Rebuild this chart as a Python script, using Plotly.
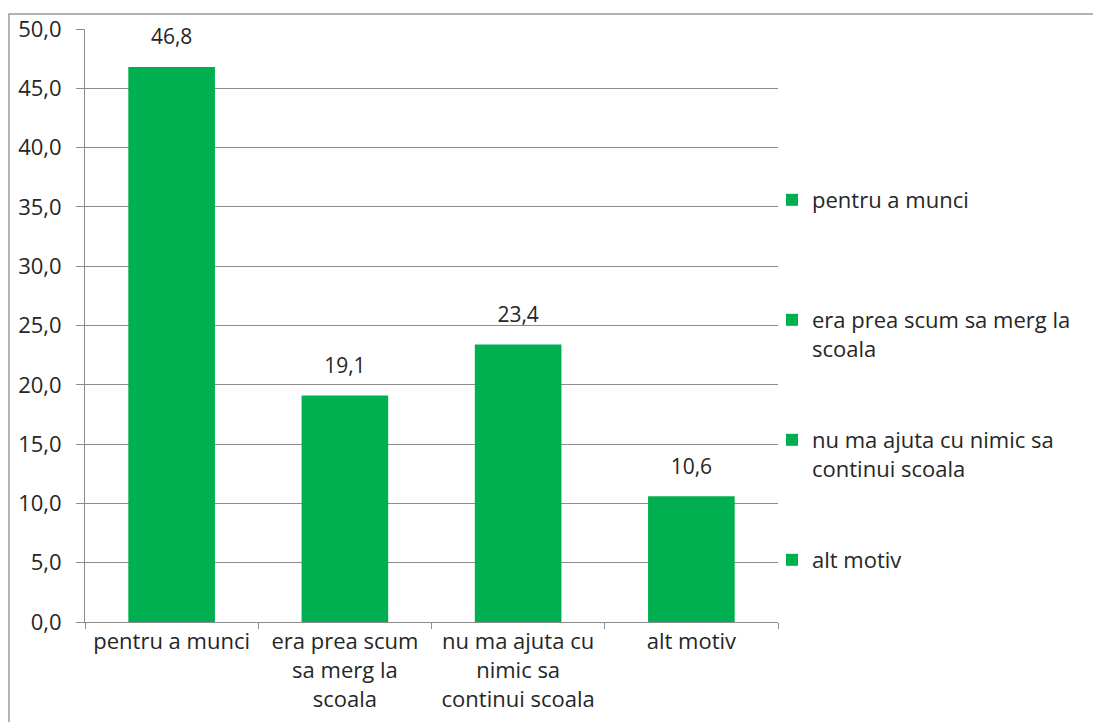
import plotly.graph_objects as go

categories = ["pentru a munci", "era prea scum sa merg la scoala",
              "nu ma ajuta cu nimic sa continui scoala", "alt motiv"]
tick_labels = ["pentru a munci", "era prea scum<br>sa merg la<br>scoala",
               "nu ma ajuta cu<br>nimic sa<br>continui scoala", "alt motiv"]
legend_names = ["pentru a munci", "era prea scum sa merg la<br>scoala",
                "nu ma ajuta cu nimic sa<br>continui scoala", "alt motiv"]
values = [46.8, 19.1, 23.4, 10.6]
y_ticks = [0, 5, 10, 15, 20, 25, 30, 35, 40, 45, 50]

OFF = 8  # default page body margin
W, H = 1101 - OFF, 722 - OFF
# window-pixel geometry of plot area
AX_L, AX_R, AX_T, AX_B = 85, 778, 29, 622
ML, MR, MT, MB = AX_L - OFF, W - (AX_R - OFF), AX_T - OFF, H - (AX_B - OFF)
FONT = "Open Sans"
FS = 22
TXT = "#262626"
GREEN = "#00B050"
GRID = "#8c8c8c"

fig = go.Figure()
legend_ids = ["legend", "legend2", "legend3", "legend4"]
for cat, name, val, lg in zip(categories, legend_names, values, legend_ids):
    fig.add_trace(go.Bar(
        x=[cat], y=[val], name=name, legend=lg,
        marker=dict(color=GREEN, line=dict(width=0)),
        width=0.5, hoverinfo="x+y",
    ))

# data labels
fig.add_trace(go.Scatter(
    x=categories, y=values, mode="markers+text",
    marker=dict(size=26, color="rgba(0,0,0,0)"),
    text=[f"{v:.1f}".replace(".", ",") for v in values],
    textposition="top center",
    textfont=dict(family=FONT, size=FS - 1, color=TXT),
    showlegend=False, hoverinfo="skip", cliponaxis=False,
))

pw = W - ML - MR
ph = H - MT - MB

def px_x(p):
    return (p - OFF - ML) / pw

def px_y(p):
    return (H - MB - (p - OFF)) / ph

legend_tops = [171, 291, 411, 531]
layout_legends = {}
for lg, top in zip(legend_ids, legend_tops):
    layout_legends[lg] = dict(
        x=764 / W, y=1 - top / H, xref="container", yref="container",
        xanchor="left", yanchor="top", valign="top",
        font=dict(family=FONT, size=FS, color=TXT),
        bgcolor="rgba(0,0,0,0)", borderwidth=0,
    )

fig.update_layout(
    width=W, height=H,
    margin=dict(l=ML, r=MR, t=MT, b=MB, autoexpand=False),
    paper_bgcolor="white", plot_bgcolor="white",
    separators=",.",
    barmode="overlay",
    showlegend=True,
    font=dict(family=FONT, size=FS, color=TXT),
    **layout_legends,
    xaxis=dict(
        type="category", categoryorder="array", categoryarray=categories,
        tickvals=categories, ticktext=tick_labels,
        showline=True, linecolor=GRID, linewidth=1,
        ticks="outside", tickson="boundaries", ticklen=6, tickcolor=GRID,
        showgrid=False,
        tickfont=dict(family=FONT, size=FS, color=TXT),
    ),
    yaxis=dict(
        range=[0, 50], tickvals=y_ticks, tickformat=".1f",
        showline=True, linecolor=GRID, linewidth=1,
        ticks="outside", ticklen=8, tickcolor=GRID,
        ticklabelstandoff=10,
        showgrid=True, gridcolor=GRID, gridwidth=1,
        zeroline=False,
        tickfont=dict(family=FONT, size=FS, color=TXT),
    ),
    shapes=[dict(
        type="rect", xref="paper", yref="paper",
        x0=px_x(9), x1=px_x(1115), y0=px_y(740), y1=px_y(14),
        line=dict(color="#9a9a9a", width=1.5), layer="below",
    )],
)

fig.write_html("out.html")
